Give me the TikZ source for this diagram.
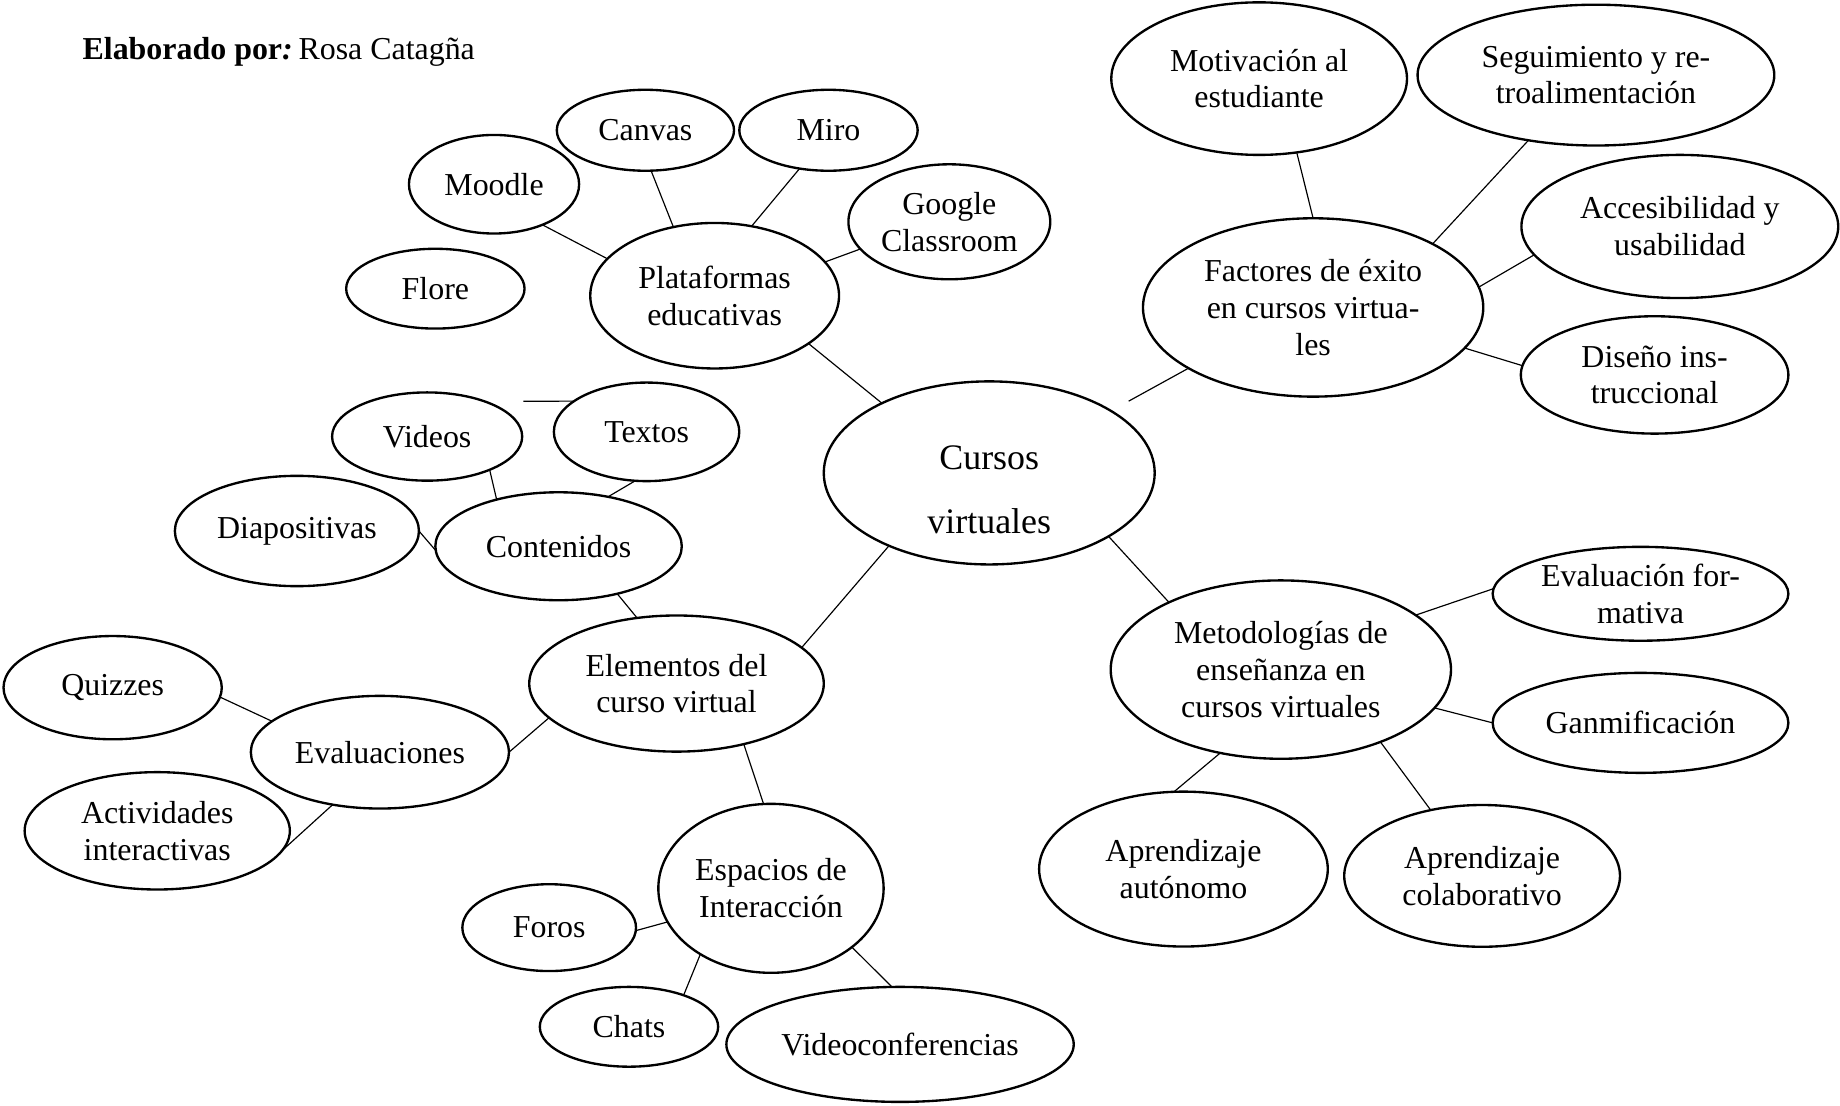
\documentclass[tikz,border=0pt]{standalone}
\usepackage{fontspec}
\setmainfont{Liberation Serif}
\usetikzlibrary{shapes.geometric}
\begin{document}
\begin{tikzpicture}[x=0.5pt,y=-0.5pt,
  bub/.style={ellipse,draw,line width=1pt,inner xsep=-8pt,inner ysep=-6pt,outer sep=0pt,
              align=center,font=\fontsize{13.6}{15.7}\selectfont},
  bsz/.style 2 args={minimum width=#1pt,minimum height=#2pt},
  link/.style={line width=0.5pt}]
\useasboundingbox (0,0) rectangle (1568,942);

\node[anchor=west,inner sep=0pt,font=\fontsize{13.6}{15.7}\selectfont] (title) at (70,44.5)
  {\textbf{Elaborado por\textit{:}}\hspace{0.18em}Rosa Catagña};

% centre
\node[bub,bsz={141}{78},font=\fontsize{15.3}{27.5}\selectfont] (cursos) at (843,403)
  {\raisebox{-10.3pt}[0pt][0pt]{\begin{tabular}{@{}c@{}}Cursos\\virtuales\end{tabular}}};

% plataformas
\node[bub,bsz={106}{62}] (plat) at (609,252) {Plataformas\\educativas};
\node[bub,bsz={72.5}{42}] (moodle) at (421,157) {Moodle};
\node[bub,bsz={75.5}{34.5}] (canvas) at (550,111) {Canvas};
\node[bub,bsz={76}{34.5}] (miro) at (706,111) {Miro};
\node[bub,bsz={76}{34}] (flore) at (371,246) {Flore};
\node[bub,bsz={86}{49}] (google) at (809,189) {Google\\Classroom};

% contenidos
\node[bub,bsz={81}{37.6}] (videos) at (364,372) {Videos};
\node[bub,bsz={79}{42}] (textos) at (551,368) {Textos};
\node[bub,bsz={104}{47}] (diapositivas) at (253,452.5) {Diapositivas};
\node[bub,bsz={105}{46}] (contenidos) at (476,465.5) {Contenidos};
\coordinate (txfree) at (446,342);

% elementos
\node[bub,bsz={125.5}{58}] (elementos) at (576.5,582.5) {Elementos del\\curso virtual};
\node[bub,bsz={110}{48}] (evaluaciones) at (323.75,641) {Evaluaciones};
\node[bub,bsz={93}{44}] (quizzes) at (96,586) {Quizzes};
\node[bub,bsz={113}{50}] (actividades) at (134,708) {Actividades\\interactivas};
\node[bub,bsz={96}{72}] (espacios) at (657,757) {Espacios de\\Interacción};
\node[bub,bsz={74}{37}] (foros) at (468,790.5) {Foros};
\node[bub,bsz={76}{34}] (chats) at (536,875) {Chats};
\node[bub,bsz={148}{49}] (videoconf) at (767,890) {Videoconferencias};

% factores
\node[bub,bsz={145}{76}] (factores) at (1119,262) {Factores de éxito\\en cursos virtua-\\les};
\node[bub,bsz={126}{65}] (motivacion) at (1073,67) {Motivación al\\estudiante};
\node[bub,bsz={152}{60}] (seguimiento) at (1360,64) {Seguimiento y re-\\troalimentación};
\node[bub,bsz={135}{61}] (accesibilidad) at (1431.5,193) {Accesibilidad y\\usabilidad};
\node[bub,bsz={114}{50}] (diseno) at (1410,319.5) {Diseño ins-\\truccional};

% metodologias
\node[bub,bsz={145}{76}] (metodologias) at (1091.5,570.6) {Metodologías de\\enseñanza en\\cursos virtuales};
\node[bub,bsz={126}{40}] (evalform) at (1398,506) {Evaluación for-\\mativa};
\node[bub,bsz={126}{42.6}] (ganmificacion) at (1398,616) {Ganmificación};
\node[bub,bsz={123}{66}] (autonomo) at (1008.5,740.6) {Aprendizaje\\autónomo};
\node[bub,bsz={117.5}{60.4}] (colaborativo) at (1263,746.4) {Aprendizaje\\colaborativo};

% connectors
\draw[link] (plat.161) -- (moodle.-40);
\draw[link] (plat.121) -- (canvas.-82);
\draw[link] (plat.62) -- (miro.-127);
\draw[link] (plat.17) -- (google.-163);
\draw[link] (plat.-27) -- (cursos.147);
\draw[link] (cursos.-144) -- (elementos.16);
\draw[link,shorten >=8.6pt] (factores.-154) -- (cursos.27);
\draw[link] (cursos.-28) -- (metodologias.149);

\draw[link] (textos.157) -- (txfree);
\draw[link] (videos.-28) -- (contenidos.143);
\draw[link] (textos.-103) -- (contenidos.45);
\draw[link] (diapositivas.0) -- (contenidos.-178);
\draw[link] (contenidos.-39) -- (elementos.121);

\draw[link] (elementos.-165) -- (evaluaciones.0);
\draw[link] (quizzes.-5) -- (evaluaciones.164);
\draw[link] (evaluaciones.-132) -- (actividades.-9);
\draw[link] (elementos.-42) -- (espacios.95);
\draw[link] (foros.-2) -- (espacios.-162);
\draw[link] (espacios.-137) -- (chats.30);
\draw[link] (espacios.-36) -- (videoconf.98);

\draw[link] (factores.90) -- (motivacion.-63);
\draw[link] (factores.28) -- (seguimiento.-136);
\draw[link] (factores.7) -- (accesibilidad.-169);
\draw[link] (factores.-15) -- (diseno.176);

\draw[link] (metodologias.22) -- (evalform.178);
\draw[link] (metodologias.-14) -- (ganmificacion.180);
\draw[link] (metodologias.-126) -- (autonomo.97);
\draw[link] (metodologias.-36) -- (colaborativo.128);
\end{tikzpicture}
\end{document}
